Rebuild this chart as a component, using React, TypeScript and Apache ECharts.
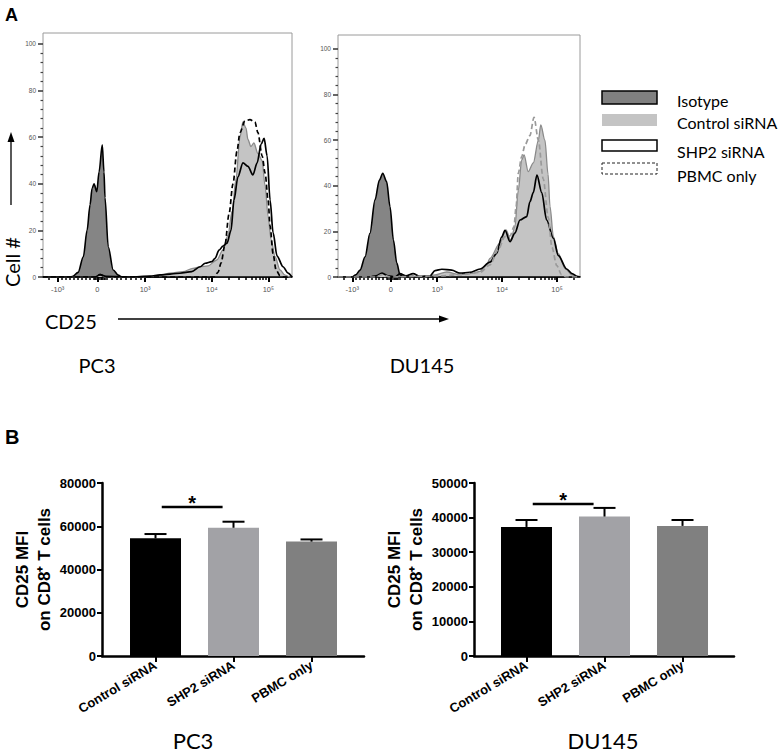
import React, { useEffect, useRef } from 'react';
import * as echarts from 'echarts';

// ---------- Panel A: flow histograms (x in display channels 0–100, y in % of max) ----------
const HIST_MAJOR_POS = [5.9, 21.8, 41, 67.8, 90.5];
const HIST_MAJOR_LABELS = ['-10³', '0', '10³', '10⁴', '10⁵'];
const HIST_Y_TICKS = [0, 20, 40, 60, 80, 100];

const pc3Isotype = [[0,0],[10.8,0],[12,0.3],[14.1,2],[16.2,8.7],[17.7,20],[18.9,31],[19.7,38],[20.5,40],[21.6,36.6],[22.5,45],[23.8,56.7],[24.5,45],[24.9,34],[26.2,13],[28.2,3],[30.2,0.8],[31.7,0],[100,0]];
const pc3Control = [[0,0],[20.9,0],[22.9,0.8],[24.9,0],[39,0],[47,0.6],[51,1.6],[56.2,2.3],[60.2,3.7],[63.1,4.4],[66.3,4.8],[69.8,7.3],[72.3,11.6],[74.3,18],[75.9,28],[77.5,42],[79.1,60],[80.3,66.5],[81.5,64],[82.3,59],[83.5,56],[84.7,57.5],[86.3,53],[88,50],[89.2,39],[90.4,26],[91.6,16],[93.2,8.7],[95.2,3],[97.2,0.8],[99.2,0],[100,0]];
const pc3Shp2 = [[0,0],[20.9,0],[22.9,1],[25.3,0.3],[35,0],[43,0.4],[47,0.9],[55,1.6],[59.7,2.3],[63.1,4.4],[65.1,5.9],[67.8,6.6],[69.1,8],[70.7,11.5],[72.3,13.3],[73.9,14.5],[75.5,20],[76.7,33],[78.3,43],[80.3,49],[82.3,47.5],[84.3,43.8],[86,49],[87.6,57],[88.8,59.5],[90,52],[91.2,33],[92.4,19],[94,9],[96.4,4.4],[98.4,1.7],[100,0]];
const pc3Pbmc = [[0,0],[20.9,0],[22.9,1],[25.3,0],[68.7,0],[70.3,2],[71.5,6],[73.1,14],[74.7,27],[76.3,40],[77.9,54],[79.1,62],[81.1,67],[83.1,67.5],[85.1,66.5],[86.3,62],[88,52],[89.2,44.6],[90.4,33],[91.2,22],[92.4,10],[93.6,3],[95.2,0.5],[96.8,0],[100,0]];

const du145Isotype = [[0,0],[5.8,0],[7.4,1],[9.1,3],[11.2,8.9],[13.2,19.2],[15.3,33.8],[17.1,42.5],[18.5,45.5],[20.1,41.8],[21.5,30.8],[22.9,16.2],[24.3,6.1],[25.6,1],[27.3,0],[100,0]];
const du145Control = [[0,0],[13.2,0],[15.7,0.5],[18.2,1.5],[20.7,0.5],[23.6,0],[27.7,0.3],[29.8,1],[31.8,0.3],[36,0],[40.1,0.9],[44.9,2.2],[50.4,1],[55.8,1.7],[58.7,2.5],[61.4,5.3],[62.8,8.2],[66.9,14.8],[69.4,20.6],[71.4,16.2],[73.1,22],[74.5,38],[75.9,51.3],[76.9,53.5],[78.6,46.2],[80.7,50],[82.8,60],[83.8,66.7],[85.5,60],[86.8,45],[87.6,31],[89,17.7],[91,10.4],[93.8,3.8],[96.7,0.9],[99.2,0],[100,0]];
const du145Shp2 = [[0,0],[13.2,0],[15.7,0.5],[18.2,1.7],[20.7,0.5],[23.6,0],[25.6,1.5],[28.1,0.5],[31,1.5],[33.9,0.3],[38,0.5],[40.1,2.8],[42.9,3.4],[47,3],[50.4,1.7],[54.5,2],[58.7,3.5],[62.8,6.5],[65.6,10.4],[67.6,17.5],[69,20.5],[71.1,15.5],[73.1,19.2],[75.2,25],[78,26.5],[79.3,33],[80.7,37],[82.2,44.7],[84.2,37],[86.2,25],[89,17],[91,9.5],[94.5,3.5],[96.7,1.5],[98.8,0.3],[100,0]];
const du145Pbmc = [[0,0],[15.7,0],[18.2,1],[21.5,0],[42.1,0.5],[50.4,1],[58.7,2],[62.8,5.3],[66.1,11.8],[69,17.7],[71.1,18],[72.7,22],[73.6,30.8],[74.5,45.5],[75.9,52.8],[77.3,58],[79.3,62],[81,70],[82.8,60],[84.8,43],[86.9,26],[88.4,13],[90.4,5],[92.4,1],[94.2,0],[100,0]];

const LEGEND_NAMES = ['Isotype', 'Control siRNA', 'SHP2 siRNA', 'PBMC only'];

// ---------- Panel B: bar charts ----------
const CATEGORIES = ['Control siRNA', 'SHP2 siRNA', 'PBMC only'];
const BAR_COLORS = ['#000000', '#a2a2a6', '#808080'];
const pc3Mfi = [54400, 59300, 52900];
const pc3Sem = [2000, 2800, 1000];
const du145Mfi = [37300, 40300, 37600];
const du145Sem = [2000, 2500, 1700];
// significance bracket: [from, to, height]
const pc3Sig = [[0.08, 0.86, 68900]];
const du145Sig = [[0.08, 0.86, 43900]];

const ARIAL = 'Liberation Sans, Arial, sans-serif';
const CAL = 'Lato, "Open Sans", sans-serif';

function decade(a: number, b: number) {
  const out: number[] = [];
  for (let m = 2; m <= 9; m++) out.push(a + (b - a) * Math.log10(m));
  return out;
}
function histMinorX() {
  const t: number[] = [];
  for (let k = 1; k <= 9; k++) t.push(5.9 + 1.59 * k);
  for (let k = 1; k <= 9; k++) t.push(21.8 + 1.92 * k);
  for (let v = 20.6; v <= 25.4; v += 0.6) t.push(v);
  t.push(...decade(41, 67.8), ...decade(67.8, 90.5));
  t.push(90.5 + 22.7 * Math.log10(2), 90.5 + 22.7 * Math.log10(2.7));
  t.push(2.5);
  return t.filter((v) => v < 100);
}
const histMinorY: number[] = [];
for (let v = 4; v < 104; v += 4) if (v % 20 !== 0) histMinorY.push(v);

function histAxes(grid: number, ymax: number) {
  const xs = [
    {
      type: 'value', gridIndex: grid, min: 0, max: 100, position: 'bottom',
      axisLine: { show: true, onZero: false, lineStyle: { color: '#000', width: 1.6 } },
      axisTick: { show: true, customValues: HIST_MAJOR_POS, length: 5, lineStyle: { color: '#000', width: 2 } },
      axisLabel: {
        customValues: HIST_MAJOR_POS,
        formatter: (v: number) => { const i = HIST_MAJOR_POS.findIndex((p) => Math.abs(p - v) < 1e-6); return i >= 0 ? HIST_MAJOR_LABELS[i] : ''; },
        fontSize: 7.5, color: '#555', margin: 8, fontFamily: ARIAL,
      },
      splitLine: { show: false },
    },
    {
      type: 'value', gridIndex: grid, min: 0, max: 100, position: 'bottom',
      axisLine: { show: false, onZero: false },
      axisTick: { show: true, customValues: histMinorX(), length: 3, lineStyle: { color: '#000', width: 1.5 } },
      axisLabel: { show: false },
      splitLine: { show: false },
    },
  ];
  const ys = [
    {
      type: 'value', gridIndex: grid, min: 0, max: ymax, position: 'left',
      axisLine: { show: false, onZero: false },
      axisTick: { show: true, customValues: HIST_Y_TICKS, length: 5, lineStyle: { color: '#333', width: 1.5 } },
      axisLabel: { customValues: HIST_Y_TICKS, fontSize: 6.5, color: '#555', margin: 7, fontFamily: ARIAL },
      splitLine: { show: false },
    },
    {
      type: 'value', gridIndex: grid, min: 0, max: ymax, position: 'left',
      axisLine: { show: false, onZero: false },
      axisTick: { show: true, customValues: histMinorY, length: 2.5, lineStyle: { color: '#444', width: 1.2 } },
      axisLabel: { show: false },
      splitLine: { show: false },
    },
  ];
  return { xs, ys };
}

function histSeries(axis: number, iso: number[][], ctrl: number[][], shp: number[][], pbmc: number[][], pbmcColor: string) {
  const base = { type: 'line', xAxisIndex: axis, yAxisIndex: axis, symbol: 'none', smooth: 0.3, smoothMonotone: 'x', silent: true };
  return [
    { ...base, name: LEGEND_NAMES[0], data: iso, lineStyle: { color: '#000', width: 1.6 }, areaStyle: { color: '#858585', opacity: 1 } },
    { ...base, name: LEGEND_NAMES[1], data: ctrl, lineStyle: { color: '#8a8a8a', width: 1.3 }, areaStyle: { color: '#c4c4c4', opacity: 1 } },
    { ...base, name: LEGEND_NAMES[2], data: shp, lineStyle: { color: '#000', width: 1.7 } },
    { ...base, name: LEGEND_NAMES[3], data: pbmc, lineStyle: { color: pbmcColor, width: 1.7, type: [5, 3] } },
  ];
}

function barAxes(grid: number, xmin: number, xmax: number, ymax: number, interval: number) {
  const x = {
    type: 'value', gridIndex: grid, min: xmin, max: xmax, position: 'bottom',
    axisLine: { show: true, onZero: false, lineStyle: { color: '#000', width: 2.5 } },
    axisTick: { show: true, customValues: [0, 1, 2], length: 6, lineStyle: { color: '#000', width: 2 } },
    axisLabel: {
      customValues: [0, 1, 2], formatter: (v: number) => CATEGORIES[Math.round(v)] || '',
      rotate: 31, fontSize: 13, fontWeight: 'bold', color: '#000', fontFamily: ARIAL, margin: 8,
    },
    splitLine: { show: false },
  };
  const y = {
    type: 'value', gridIndex: grid, min: 0, max: ymax, interval, position: 'left',
    axisLine: { show: true, onZero: false, lineStyle: { color: '#000', width: 2.5 } },
    axisTick: { show: true, length: 5, lineStyle: { color: '#000', width: 2 } },
    axisLabel: { fontSize: 13, fontWeight: 'bold', color: '#000', fontFamily: ARIAL, margin: 6, formatter: (v: number) => String(v) },
    splitLine: { show: false },
    name: 'CD25 MFI\non CD8⁺ T cells', nameLocation: 'middle', nameGap: 41, nameRotate: 90,
    nameTextStyle: { fontSize: 17, fontWeight: 'bold', color: '#000', fontFamily: ARIAL, lineHeight: 22 },
  };
  return { x, y };
}

function barSeries(axis: number, vals: number[], sem: number[], sig: number[][]) {
  return [
    {
      type: 'bar', xAxisIndex: axis, yAxisIndex: axis, barWidth: 51, silent: true,
      data: vals.map((v, i) => ({ value: [i, v], itemStyle: { color: BAR_COLORS[i] } })),
    },
    {
      type: 'custom', xAxisIndex: axis, yAxisIndex: axis, silent: true, z: 5,
      dimensions: ['cat', 'mean', 'sem'],
      encode: { x: 0, y: 1 },
      data: vals.map((v, i) => [i, v, sem[i]]),
      renderItem: (params: any, api: any) => {
        const x = api.value(0), y = api.value(1), e = api.value(2);
        const p0 = api.coord([x, y]);
        const p1 = api.coord([x, y + e]);
        return {
          type: 'group',
          children: [
            { type: 'line', shape: { x1: p0[0], y1: p0[1], x2: p1[0], y2: p1[1] }, style: { stroke: '#000', lineWidth: 2 } },
            { type: 'line', shape: { x1: p1[0] - 11, y1: p1[1], x2: p1[0] + 11, y2: p1[1] }, style: { stroke: '#000', lineWidth: 2 } },
          ],
        };
      },
    },
    {
      type: 'custom', xAxisIndex: axis, yAxisIndex: axis, silent: true, z: 5,
      dimensions: ['from', 'to', 'height'],
      encode: { x: [0, 1], y: 2 },
      data: sig,
      renderItem: (params: any, api: any) => {
        const a = api.coord([api.value(0), api.value(2)]);
        const b = api.coord([api.value(1), api.value(2)]);
        return {
          type: 'group',
          children: [
            { type: 'line', shape: { x1: a[0], y1: a[1], x2: b[0], y2: b[1] }, style: { stroke: '#000', lineWidth: 2.5 } },
            { type: 'text', x: (a[0] + b[0]) / 2, y: a[1] - 4, style: { text: '*', fontSize: 20, fontWeight: 'bold', fontFamily: ARIAL, align: 'center', verticalAlign: 'middle', fill: '#000' } },
          ],
        };
      },
    },
  ];
}

function txt(text: string, x: number, y: number, size: number, opts: any = {}) {
  return {
    type: 'text', x, y, rotation: opts.rotation || 0, silent: true,
    style: {
      text, fontSize: size, fontFamily: opts.family || CAL, fontWeight: opts.weight || 'normal',
      fill: '#000', align: opts.align || 'center', verticalAlign: 'middle',
    },
  };
}

export default function App() {
  const ref = useRef<HTMLDivElement>(null);
  useEffect(() => {
    if (!ref.current) return;
    const chart = echarts.init(ref.current, undefined, { renderer: 'svg' });
    const h0 = histAxes(0, 104.7);
    const h1 = histAxes(1, 106.1);
    const b0 = barAxes(2, -0.686, 2.673, 80000, 20000);
    const b1 = barAxes(3, -0.673, 2.66, 50000, 10000);

    const legendBoxes = [
      { type: 'rect', shape: { x: 602, y: 91, width: 55, height: 13 }, style: { fill: '#808080', stroke: '#000', lineWidth: 1.5 } },
      { type: 'rect', shape: { x: 602, y: 114, width: 55, height: 12 }, style: { fill: '#c4c4c4' } },
      { type: 'rect', shape: { x: 602, y: 140, width: 55, height: 11 }, style: { fill: '#fff', stroke: '#000', lineWidth: 1.5 } },
      { type: 'rect', shape: { x: 602, y: 163, width: 55, height: 11 }, style: { fill: 'none', stroke: '#222', lineWidth: 1, lineDash: [3, 2] } },
    ];
    const legendY = [100, 122.5, 151, 175];

    chart.setOption({
      animation: false,
      grid: [
        { left: 43, top: 33, width: 249, height: 244, show: true, borderColor: '#9a9a9a', borderWidth: 1 },
        { left: 338, top: 35, width: 242, height: 242, show: true, borderColor: '#9a9a9a', borderWidth: 1 },
        { left: 102, top: 483, width: 262, height: 173 },
        { left: 474, top: 483, width: 260, height: 173 },
      ],
      xAxis: [...h0.xs, ...h1.xs, b0.x, b1.x],
      yAxis: [...h0.ys, ...h1.ys, b0.y, b1.y],
      series: [
        ...histSeries(0, pc3Isotype, pc3Control, pc3Shp2, pc3Pbmc, '#000'),
        ...histSeries(2, du145Isotype, du145Control, du145Shp2, du145Pbmc, '#9a9a9a'),
        ...barSeries(4, pc3Mfi, pc3Sem, pc3Sig),
        ...barSeries(5, du145Mfi, du145Sem, du145Sig),
      ],
      graphic: [
        txt('A', 5, 15, 18, { family: ARIAL, weight: 'bold', align: 'left' }),
        txt('B', 5, 437, 20, { family: ARIAL, weight: 'bold', align: 'left' }),
        txt('Cell #', 12, 262, 20, { rotation: Math.PI / 2 }),
        { type: 'line', shape: { x1: 11, y1: 205, x2: 11, y2: 140 }, style: { stroke: '#000', lineWidth: 1.3 } },
        { type: 'polygon', shape: { points: [[7.5, 142], [14.5, 142], [11, 132]] }, style: { fill: '#000' } },
        txt('CD25', 45, 321, 20, { align: 'left' }),
        { type: 'line', shape: { x1: 118, y1: 319, x2: 440, y2: 319 }, style: { stroke: '#000', lineWidth: 1.3 } },
        { type: 'polygon', shape: { points: [[439, 315.5], [439, 322.5], [449, 319]] }, style: { fill: '#000' } },
        txt('PC3', 97, 365, 20),
        txt('DU145', 422, 365, 20),
        txt('PC3', 193, 740, 22),
        txt('DU145', 603, 740, 22),
        ...legendBoxes,
        ...LEGEND_NAMES.map((n, i) => txt(n, 677, legendY[i], 16, { align: 'left' })),
      ],
    });
    return () => chart.dispose();
  }, []);
  return <div ref={ref} style={{ position: 'absolute', left: 0, top: 0, width: 782, height: 754, background: '#fff' }} />;
}
